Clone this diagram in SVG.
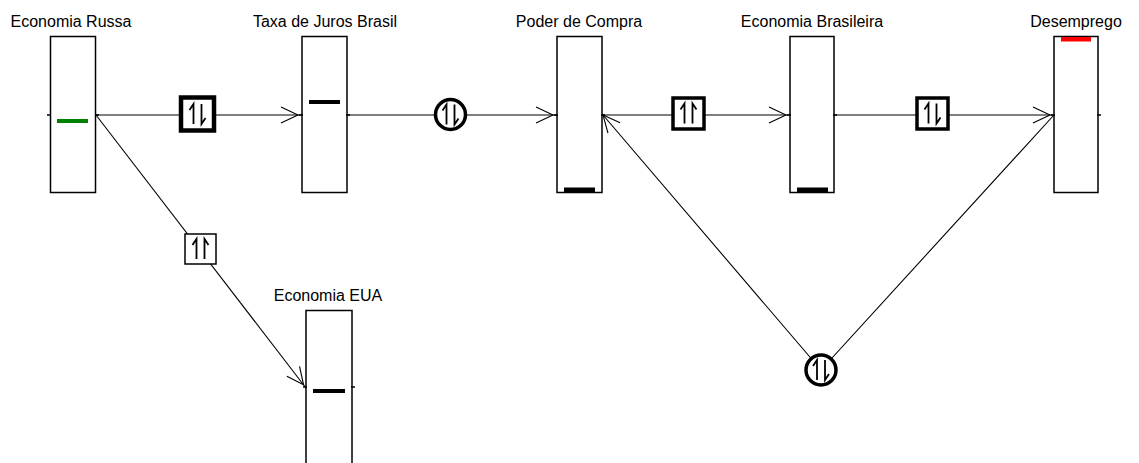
<svg xmlns="http://www.w3.org/2000/svg" xmlns:xlink="http://www.w3.org/1999/xlink" width="1139" height="463" viewBox="0 0 1139 463">
<style>
  .lbl { font-family: "Liberation Sans", Arial, sans-serif; font-size: 16px; fill: #000; text-anchor: middle; }
  .box { fill: #fff; stroke: #000; stroke-width: 1.5; }
  .tick { stroke: #000; stroke-width: 1.5; }
  .conn { fill: none; stroke: #000; stroke-width: 1.1; }
  .mk-thick { fill: #fff; stroke: #000; stroke-width: 4.5; }
  .mk-med { fill: #fff; stroke: #000; stroke-width: 3.5; }
  .mk-thin { fill: #fff; stroke: #000; stroke-width: 1.5; }
  .gl { fill: none; stroke: #000; stroke-width: 1.8; }
</style>
<defs>
  <marker id="ah" markerUnits="userSpaceOnUse" viewBox="-20 -10 30 20" markerWidth="30" markerHeight="20" refX="4" refY="0" orient="auto" overflow="visible">
    <path d="M-17,-8 L0,0 L-17,8" fill="none" stroke="#000" stroke-width="1.1"/>
  </marker>
  <marker id="ah0" markerUnits="userSpaceOnUse" viewBox="-20 -10 30 20" markerWidth="30" markerHeight="20" refX="0" refY="0" orient="auto" overflow="visible">
    <path d="M-17,-8 L0,0 L-17,8" fill="none" stroke="#000" stroke-width="1.1"/>
  </marker>
  <g id="g-ud">
    <path class="gl" d="M-4,10 V-10 L-8,-4 M4,-10 V10 L8,4"/>
  </g>
  <g id="g-uu">
    <path class="gl" d="M-4,10 V-10 L-8,-4 M4,10 V-10 L8,-4"/>
  </g>
</defs>
<rect width="1139" height="463" fill="#fff"/>

<g id="connectors">
  <path class="conn" d="M96,115 H302" marker-end="url(#ah)"/>
  <path class="conn" d="M347,115 H557" marker-end="url(#ah)"/>
  <path class="conn" d="M602,115 H790" marker-end="url(#ah)"/>
  <path class="conn" d="M834,115 H1054" marker-end="url(#ah)"/>
  <path class="conn" d="M96,115 L306,388" marker-end="url(#ah)"/>
  <path class="conn" d="M1054,115 L821,370 L603,115" marker-end="url(#ah0)"/>
  <!-- relation markers -->
  <g id="rel-russa-taxa">
    <rect class="mk-thick" x="181" y="97.5" width="33" height="33"/>
    <use xlink:href="#g-ud" href="#g-ud" transform="translate(197.5,114)"/>
  </g>
  <g id="rel-taxa-poder">
    <circle class="mk-med" cx="450.5" cy="114.5" r="15"/>
    <use xlink:href="#g-ud" href="#g-ud" transform="translate(450.5,114.5)"/>
  </g>
  <g id="rel-poder-bras">
    <rect class="mk-med" x="673" y="98" width="31" height="31"/>
    <use xlink:href="#g-uu" href="#g-uu" transform="translate(688.5,113.5)"/>
  </g>
  <g id="rel-bras-desemp">
    <rect class="mk-med" x="917" y="98" width="31" height="31"/>
    <use xlink:href="#g-ud" href="#g-ud" transform="translate(932.5,113.5)"/>
  </g>
  <g id="rel-russa-eua">
    <rect class="mk-thin" x="185" y="234" width="31" height="30"/>
    <use xlink:href="#g-uu" href="#g-uu" transform="translate(200.5,249)"/>
  </g>
  <g id="rel-desemp-poder">
    <circle class="mk-med" cx="821" cy="370" r="15"/>
    <use xlink:href="#g-ud" href="#g-ud" transform="translate(821,370)"/>
  </g>
</g>

<g id="economia-russa">
  <text class="lbl" x="71" y="27">Economia Russa</text>
  <rect class="box" x="50.5" y="36.5" width="45" height="156"/>
  <path class="tick" d="M47,115 H51 M95,115 H99"/>
  <rect x="57" y="119" width="31" height="4" fill="#008000"/>
</g>

<g id="taxa-juros">
  <text class="lbl" x="325" y="27">Taxa de Juros Brasil</text>
  <rect class="box" x="302" y="36.5" width="45" height="156"/>
  <path class="tick" d="M299,115 H303 M346,115 H350"/>
  <rect x="309" y="100" width="31" height="4" fill="#000"/>
</g>

<g id="poder-compra">
  <text class="lbl" x="579" y="27">Poder de Compra</text>
  <rect class="box" x="557" y="36.5" width="45" height="156"/>
  <path class="tick" d="M554,115 H558 M601,115 H605"/>
  <rect x="564" y="187.5" width="31" height="4.5" fill="#000"/>
</g>

<g id="economia-brasileira">
  <text class="lbl" x="812" y="27">Economia Brasileira</text>
  <rect class="box" x="790" y="36.5" width="44" height="156"/>
  <path class="tick" d="M787,115 H791 M833,115 H837"/>
  <rect x="797" y="187.5" width="31" height="4.5" fill="#000"/>
</g>

<g id="desemprego">
  <text class="lbl" x="1076" y="27">Desemprego</text>
  <rect class="box" x="1054" y="36.5" width="44" height="156"/>
  <path class="tick" d="M1051,115 H1055 M1097,115 H1101"/>
  <rect x="1061" y="37" width="30" height="4.5" fill="#ff0000"/>
</g>

<g id="economia-eua">
  <text class="lbl" x="328" y="301">Economia EUA</text>
  <rect class="box" x="306" y="310.5" width="46" height="170"/>
  <path class="tick" d="M303,387 H307 M351,387 H355"/>
  <rect x="313" y="389" width="32" height="4" fill="#000"/>
</g>
</svg>
